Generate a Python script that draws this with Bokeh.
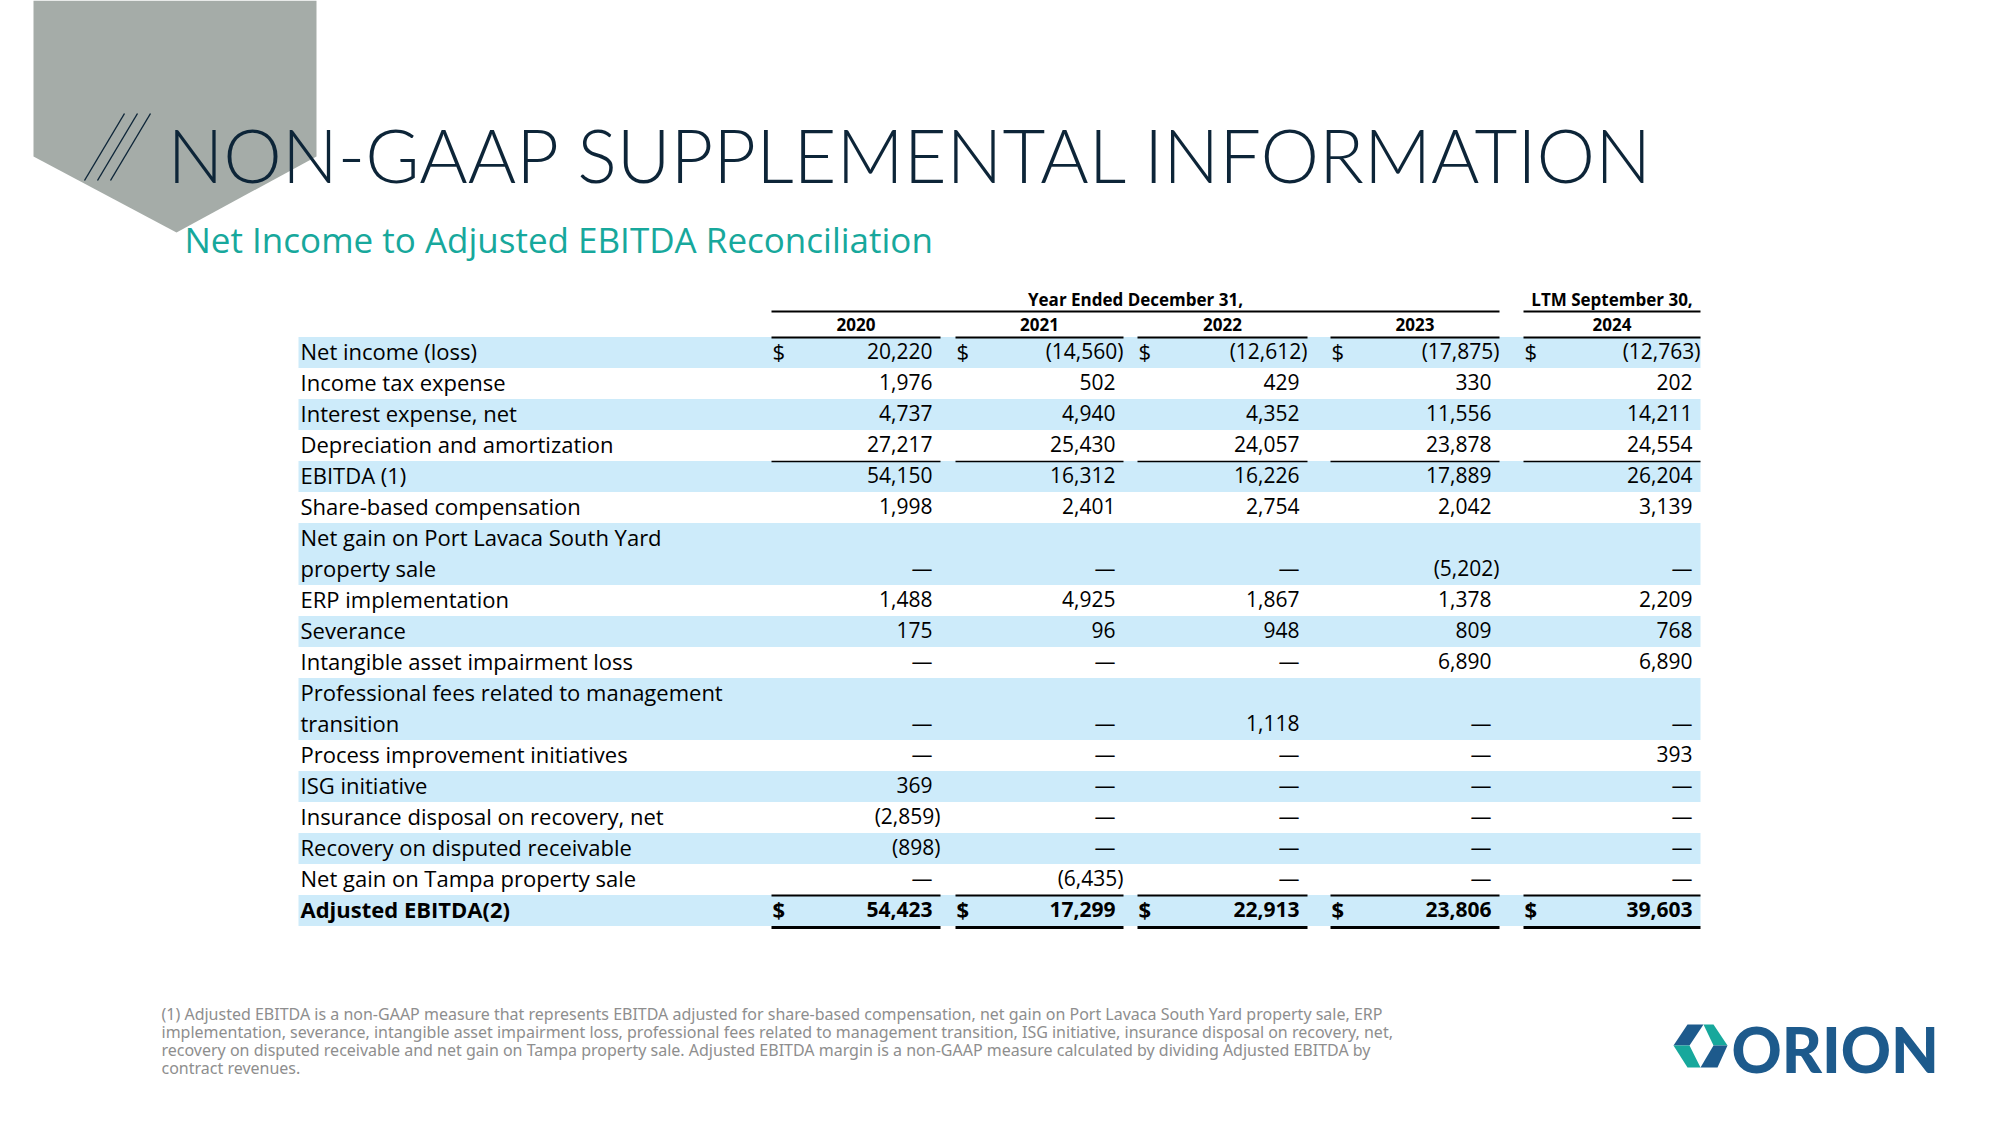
from bokeh.plotting import figure
from bokeh.models import Range1d
from bokeh.core.properties import value
from bokeh.embed import file_html
from bokeh.resources import INLINE

# ---------------- data ----------------
title = "NON-GAAP SUPPLEMENTAL INFORMATION"
subtitle = "Net Income to Adjusted EBITDA Reconciliation"
group_header = "Year Ended December 31,"
ltm_header = "LTM September 30,"
years = ["2020", "2021", "2022", "2023", "2024"]

row_labels = [
    ["Net income (loss)"],
    ["Income tax expense"],
    ["Interest expense, net"],
    ["Depreciation and amortization"],
    ["EBITDA (1)"],
    ["Share-based compensation"],
    ["Net gain on Port Lavaca South Yard", "property sale"],
    ["ERP implementation"],
    ["Severance"],
    ["Intangible asset impairment loss"],
    ["Professional fees related to management", "transition"],
    ["Process improvement initiatives"],
    ["ISG initiative"],
    ["Insurance disposal on recovery, net"],
    ["Recovery on disputed receivable"],
    ["Net gain on Tampa property sale"],
    ["Adjusted EBITDA(2)"],
]

v2020 = [20220, 1976, 4737, 27217, 54150, 1998, None, 1488, 175, None, None, None, 369, -2859, -898, None, 54423]
v2021 = [-14560, 502, 4940, 25430, 16312, 2401, None, 4925, 96, None, None, None, None, None, None, -6435, 17299]
v2022 = [-12612, 429, 4352, 24057, 16226, 2754, None, 1867, 948, None, 1118, None, None, None, None, None, 22913]
v2023 = [-17875, 330, 11556, 23878, 17889, 2042, -5202, 1378, 809, 6890, None, None, None, None, None, None, 23806]
v2024 = [-12763, 202, 14211, 24554, 26204, 3139, None, 2209, 768, 6890, None, 393, None, None, None, None, 39603]
columns = [v2020, v2021, v2022, v2023, v2024]

footnote = [
    "(1) Adjusted EBITDA is a non-GAAP measure that represents EBITDA adjusted for share-based compensation, net gain on Port Lavaca South Yard property sale, ERP",
    "implementation, severance, intangible asset impairment loss, professional fees related to management transition, ISG initiative, insurance disposal on recovery, net,",
    "recovery on disputed receivable and net gain on Tampa property sale. Adjusted EBITDA margin is a non-GAAP measure calculated by dividing Adjusted EBITDA by",
    "contract revenues.",
]
logo_text = "ORION"

# ---------------- layout ----------------
W, H = 1983, 1109
p = figure(width=W, height=H, x_range=Range1d(0, W), y_range=Range1d(H, 0),
           output_backend="svg", toolbar_location=None, min_border=0)
p.xaxis.visible = False
p.yaxis.visible = False
p.grid.visible = False
p.outline_line_color = None
p.background_fill_color = "white"
p.border_fill_color = "white"

NAVY = "#0D2538"
TEAL = "#17A89C"
BAND = "#CDEBFA"
FONT = value("Open Sans")

# decorative grey pentagon
p.patch([33, 316, 316, 176, 33], [0, 0, 156, 232, 156], fill_color="#A5ACA8", line_color=None)
# three slashes
p.segment(x0=[84, 97, 110], y0=[180, 180, 180], x1=[124, 137, 150], y1=[113, 113, 113],
          line_color=NAVY, line_width=1.4)

# title and subtitle
p.text(x=[167], y=[154], text=[title], text_font=value("Lato Light"), text_font_size="74px",
       text_color=NAVY, text_baseline="middle", text_align="left")
p.text(x=[184], y=[239], text=[subtitle], text_font=FONT, text_font_size="35px",
       text_color=TEAL, text_baseline="middle", text_align="left")

# table geometry
y0 = 352
lh = 31
label_x = 300
band_l, band_r = 298, 1700
col_start = [771, 955, 1137, 1330, 1523]
col_end = [940, 1123, 1307, 1499, 1700]

slots = []
s = 0
for lab in row_labels:
    slots.append(s)
    s += len(lab)

# bands
bx, by, bw, bh = [], [], [], []
for i, lab in enumerate(row_labels):
    if i % 2 == 0:
        top = y0 + lh * slots[i] - lh / 2
        hgt = lh * len(lab)
        bx.append((band_l + band_r) / 2)
        by.append(top + hgt / 2)
        bw.append(band_r - band_l)
        bh.append(hgt)
p.rect(x=bx, y=by, width=bw, height=bh, fill_color=BAND, line_color=None)

# headers
HDR = "17px"
p.text(x=[(col_start[0] + col_end[3]) / 2], y=[299], text=[group_header], text_font=FONT,
       text_font_style="bold", text_font_size=HDR, text_color="black",
       text_align="center", text_baseline="middle")
p.text(x=[(col_start[4] + col_end[4]) / 2], y=[299], text=[ltm_header], text_font=FONT,
       text_font_style="bold", text_font_size=HDR, text_color="black",
       text_align="center", text_baseline="middle")
p.text(x=[(a + b) / 2 for a, b in zip(col_start, col_end)], y=[324] * 5, text=years,
       text_font=FONT, text_font_style="bold", text_font_size=HDR, text_color="black",
       text_align="center", text_baseline="middle")

# rules
p.segment(x0=[col_start[0], col_start[4]], y0=[311, 311], x1=[col_end[3], col_end[4]], y1=[311, 311],
          line_color="black", line_width=2)
for yy, lw in [(337, 2), (461, 1.5), (895, 2), (927, 3)]:
    p.segment(x0=col_start, y0=[yy] * 5, x1=col_end, y1=[yy] * 5, line_color="black", line_width=lw)

# labels
DY = -1.5
last = len(row_labels) - 1
for bold in (False, True):
    lx, ly, lt = [], [], []
    for i, lab in enumerate(row_labels):
        if (i == last) != bold:
            continue
        for k, line in enumerate(lab):
            lx.append(label_x)
            ly.append(y0 + DY + lh * (slots[i] + k))
            lt.append(line)
    p.text(x=lx, y=ly, text=lt, text_font=FONT, text_font_size="22px",
           text_font_style="bold" if bold else "normal", text_color="black",
           text_align="left", text_baseline="middle")


def fmt(v):
    if v is None:
        return "\u2014"
    if v < 0:
        return "({:,})".format(-v)
    return "{:,}".format(v)


for bold in (False, True):
    vx, vy, vt = [], [], []
    for c, vals in enumerate(columns):
        for i, v in enumerate(vals):
            if (i == last) != bold:
                continue
            ypos = y0 + DY + lh * (slots[i] + len(row_labels[i]) - 1)
            vx.append(col_end[c] if (v is not None and v < 0) else col_end[c] - 8)
            vy.append(ypos)
            vt.append(fmt(v))
    p.text(x=vx, y=vy, text=vt, text_font=FONT, text_font_size="21px",
           text_font_style="bold" if bold else "normal", text_color="black",
           text_align="right", text_baseline="middle")

# dollar signs
for i, bold in [(0, False), (last, True)]:
    p.text(x=[c + 1 for c in col_start], y=[y0 + DY + lh * slots[i]] * 5, text=["$"] * 5,
           text_font=FONT, text_font_size="22px", text_font_style="bold" if bold else "normal",
           text_color="black", text_align="left", text_baseline="middle")

# footnote
p.text(x=[161] * 4, y=[1013 + 18 * k for k in range(4)], text=footnote, text_font=value("Noto Sans"),
       text_font_size="16px", text_color="#8E8E8E", text_align="left", text_baseline="middle")

# logo
BLUE = "#1D5A8C"
p.patches(
    xs=[[1673, 1687, 1703, 1689], [1673, 1689, 1700, 1687], [1703, 1713, 1727, 1713], [1713, 1727, 1717, 1700]],
    ys=[[1045, 1024, 1024, 1045], [1045, 1045, 1067, 1067], [1024, 1024, 1045, 1045], [1045, 1045, 1067, 1067]],
    fill_color=[BLUE, TEAL, TEAL, BLUE], line_color=None)
p.text(x=[1731], y=[1048], text=[logo_text], text_font=value("Lato Black"),
       text_font_size="62px", text_color=BLUE, text_align="left", text_baseline="middle")

open("out.html", "w").write(file_html(p, INLINE))
